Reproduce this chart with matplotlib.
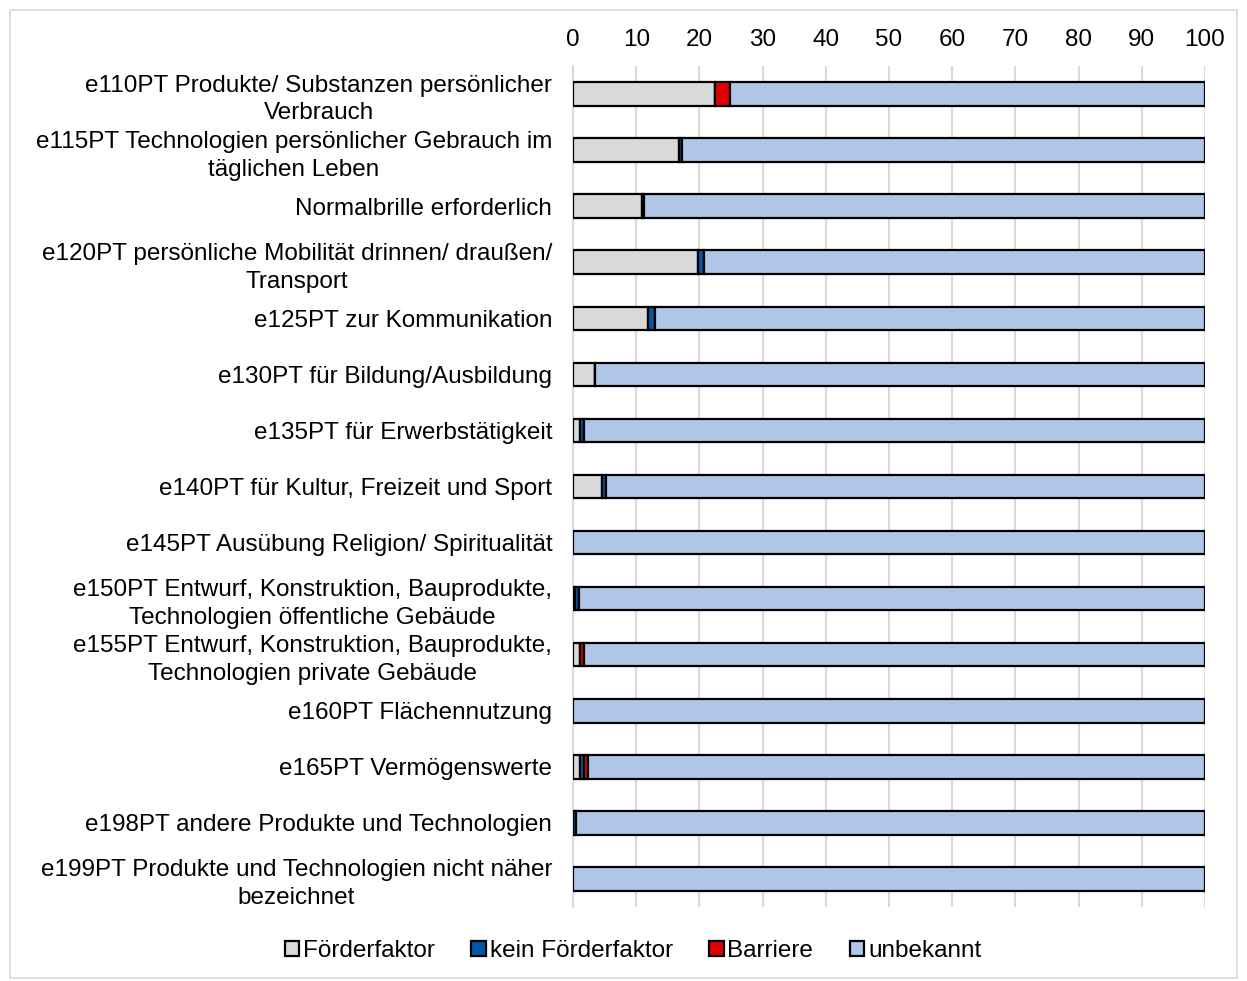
import matplotlib
matplotlib.use("Agg")
import matplotlib.pyplot as plt
import numpy as np
from matplotlib.patches import Rectangle

plt.rcParams['font.family'] = ['Liberation Sans', 'DejaVu Sans']

categories = [
    "e110PT Produkte/ Substanzen persönlicher\nVerbrauch",
    "e115PT Technologien persönlicher Gebrauch im\ntäglichen Leben",
    "Normalbrille erforderlich",
    "e120PT persönliche Mobilität drinnen/ draußen/\nTransport",
    "e125PT zur Kommunikation",
    "e130PT für Bildung/Ausbildung",
    "e135PT für Erwerbstätigkeit",
    "e140PT für Kultur, Freizeit und Sport",
    "e145PT Ausübung Religion/ Spiritualität",
    "e150PT Entwurf, Konstruktion, Bauprodukte,\nTechnologien öffentliche Gebäude",
    "e155PT Entwurf, Konstruktion, Bauprodukte,\nTechnologien private Gebäude",
    "e160PT Flächennutzung",
    "e165PT Vermögenswerte",
    "e198PT andere Produkte und Technologien",
    "e199PT Produkte und Technologien nicht näher\nbezeichnet",
]
foerderfaktor = [22.5, 16.7, 10.9, 19.7, 11.9, 3.5, 1.1, 4.6, 0.0, 0.3, 1.1, 0.0, 1.1, 0.0, 0.0]
kein_foerderfaktor = [0.0, 0.6, 0.4, 1.0, 1.1, 0.0, 0.6, 0.6, 0.0, 0.6, 0.0, 0.0, 0.6, 0.4, 0.0]
barriere = [2.4, 0.0, 0.0, 0.0, 0.0, 0.0, 0.0, 0.0, 0.0, 0.0, 0.6, 0.0, 0.6, 0.0, 0.0]
unbekannt = [100 - a - b - c for a, b, c in zip(foerderfaktor, kein_foerderfaktor, barriere)]
series_names = ["Förderfaktor", "kein Förderfaktor", "Barriere", "unbekannt"]
series_colors = ["#D9D9D9", "#0058A8", "#E00000", "#B0C6E8"]
xticks = [0, 10, 20, 30, 40, 50, 60, 70, 80, 90, 100]

FS = 17.5
fig = plt.figure(figsize=(12.47, 9.81), dpi=100)
ax = fig.add_axes([573/1247, 1 - 907/981, (1205-573)/1247, (907-66)/981])

y = np.arange(len(categories))
left = np.zeros(len(categories))
for name, vals, col in zip(series_names, [foerderfaktor, kein_foerderfaktor, barriere, unbekannt], series_colors):
    vals = np.array(vals)
    ax.barh(y, vals, left=left, height=0.42, color=col, edgecolor='black', linewidth=1.6, label=name, zorder=3)
    left += vals

ax.set_ylim(len(categories) - 0.5, -0.5)
ax.set_xlim(0, 100)
ax.set_xticks(xticks)
ax.xaxis.tick_top()
ax.tick_params(axis='x', length=0, labelsize=FS, pad=11)
ax.tick_params(axis='y', length=0, labelsize=FS, pad=15)
ax.set_yticks(y)
ax.set_yticklabels(categories, ha='right', multialignment='center', linespacing=1.35)
ax.grid(axis='x', color='#D9D9D9', linewidth=1.5, zorder=0)
for s in ['top', 'right', 'bottom']:
    ax.spines[s].set_visible(False)
ax.spines['left'].set_color('#D9D9D9')
ax.spines['left'].set_linewidth(1.5)

handles, labels = ax.get_legend_handles_labels()
leg = fig.legend(handles, labels, loc='center', bbox_to_anchor=(633/1247, 1 - 951/981), ncol=4,
                 frameon=False, fontsize=FS, handlelength=0.6, handleheight=0.6,
                 handletextpad=0.15, columnspacing=1.5)

fig.patches.append(Rectangle((10/1247, 3/981), 1227/1247, 968/981, transform=fig.transFigure,
                             fill=False, edgecolor='#D9D9D9', linewidth=1.2))

fig.savefig("out.png", dpi=100)
